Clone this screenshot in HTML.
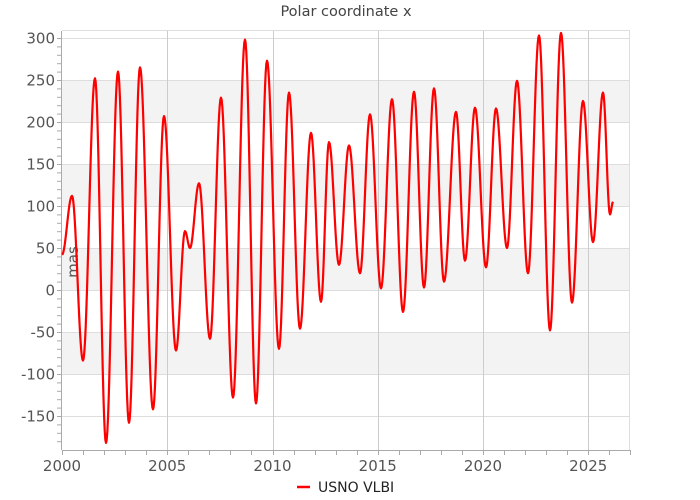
<!DOCTYPE html>
<html><head><meta charset="utf-8"><style>
body{margin:0;background:#fff}
svg{display:block;font-family:"DejaVu Sans","Liberation Sans",sans-serif}
</style></head><body>
<svg id="s" width="700" height="500" viewBox="0 0 700 500">
<rect width="700" height="500" fill="#fff"/>
<g fill="#f3f3f3">
<rect x="62" y="80" width="568" height="42"/>
<rect x="62" y="164" width="568" height="42"/>
<rect x="62" y="248" width="568" height="42"/>
<rect x="62" y="332" width="568" height="42"/>
</g>
<g id="grid" stroke="#dddddd" stroke-width="1"></g>
<g id="ax" stroke="#aaa" stroke-width="1"></g>
<g id="lbl" fill="#555" font-size="15"></g>
<text x="346" y="16" text-anchor="middle" font-size="14.5" fill="#444">Polar coordinate x</text>
<text transform="translate(78,262) rotate(-90)" text-anchor="middle" font-size="15" fill="#555">mas</text>
<path id="p" fill="none" stroke="#ff0000" stroke-width="2.2" stroke-linejoin="round"/>
<line x1="297" y1="487" x2="310" y2="487" stroke="#ff0000" stroke-width="2.5"/>
<text x="318" y="492" font-size="14" fill="#222">USNO VLBI</text>
</svg>
<script>
var ns="http://www.w3.org/2000/svg";
function el(p,t,a,txt){var e=document.createElementNS(ns,t);for(var k in a)e.setAttribute(k,a[k]);if(txt)e.textContent=txt;document.getElementById(p).appendChild(e);}
function Y(v){return 290-v*0.84;}
function X(yr){return 62+(yr-2000)*21.05;}
for(var v=-150;v<=300;v+=50){var y=Y(v)+0.5;el("grid","line",{x1:62,x2:630,y1:y,y2:y});el("lbl","text",{x:55,y:y+5,"text-anchor":"end"},""+v);}
for(var v=-180;v<=300;v+=10){var y=Y(v)+0.5;el("ax","line",{x1:57,x2:62,y1:y,y2:y});}
for(var yr=2005;yr<=2025;yr+=5){var x=Math.round(X(yr))+0.5;el("grid","line",{x1:x,x2:x,y1:31,y2:450,stroke:"#cccccc"});}
for(var yr=2000;yr<=2027;yr++){var x=Math.round(X(yr))+0.5;el("ax","line",{x1:x,x2:x,y1:450,y2:455});}
for(var yr=2000;yr<=2025;yr+=5){el("lbl","text",{x:X(yr),y:471,"text-anchor":"middle"},""+yr);}
el("grid","line",{x1:62,x2:630,y1:30.5,y2:30.5});
el("grid","line",{x1:629.5,x2:629.5,y1:31,y2:450});
el("ax","line",{x1:61.5,x2:61.5,y1:31,y2:450});
el("ax","line",{x1:62,x2:630,y1:450.5,y2:450.5});
var K=[[62,42],[72,112],[83,-84],[95,252],[106,-182],[118,260],[129,-158],[140,265],[153,-142],[164,207],[176,-72],[185,70],[190,50],[199,127],[210,-58],[221,229],[233,-128],[245,298],[256,-135],[267,273],[279,-70],[289,235],[300,-46],[311,187],[321,-14],[329,176],[339,30],[349,172],[360,20],[370,209],[381,2],[392,227],[403,-26],[414,236],[424,3],[434,240],[444,10],[456,212],[465,35],[475,217],[486,27],[496,216],[507,50],[517,249],[528,20],[539,303],[550,-48],[561,306],[572,-15],[583,225],[593,57],[603,235],[610,90],[613,105]];
var d="";
for(var i=0;i<K.length-1;i++){var a=K[i],b=K[i+1];var n=Math.max(2,Math.round((b[0]-a[0])*1.5));
for(var j=(i?1:0);j<=n;j++){var t=j/n;var x=a[0]+(b[0]-a[0])*t;var v=a[1]+(b[1]-a[1])*(1-Math.cos(Math.PI*t))/2;
d+=(d?"L":"M")+x.toFixed(2)+" "+Y(v).toFixed(2);}}
document.getElementById("p").setAttribute("d",d);
</script>
</body></html>
